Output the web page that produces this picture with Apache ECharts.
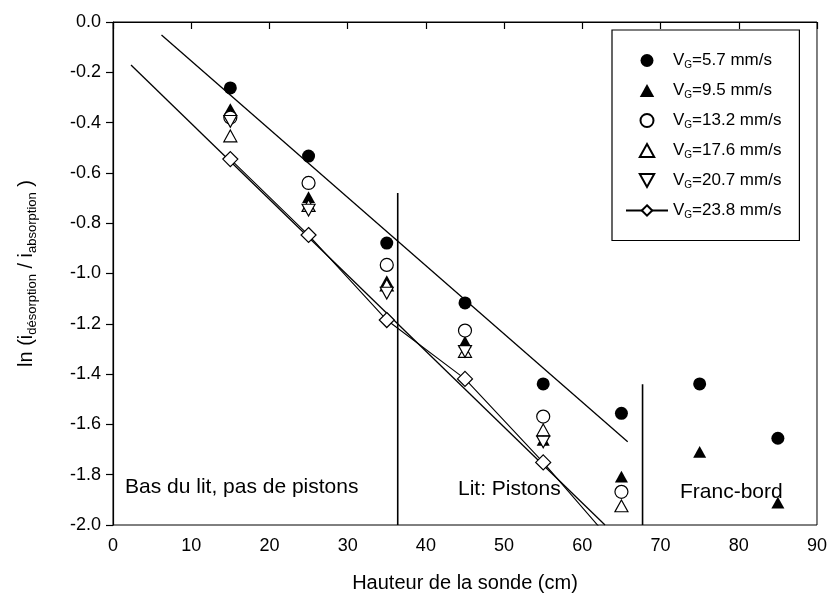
<!DOCTYPE html>
<html><head><meta charset="utf-8">
<script src="https://cdn.jsdelivr.net/npm/echarts@6/dist/echarts.min.js"></script>
<style>html,body{margin:0;padding:0;background:#fff}#c{width:830px;height:608px}</style>
</head><body><div id="c"></div>
<script>
// ---- data ----
const heights = [15, 25, 35, 45, 55, 65, 75, 85];
const vg57  = [-0.262, -0.533, -0.879, -1.117, -1.439, -1.556, -1.439, -1.655];
const vg95  = [-0.346, -0.696, -1.030, -1.271, -1.662, -1.808, -1.709, -1.911];
const vg132 = [-0.380, -0.640, -0.966, -1.227, -1.569, -1.868];
const vg176 = [-0.453, -0.730, -1.046, -1.310, -1.622, -1.924];
const vg207 = [-0.395, -0.748, -1.078, -1.310, -1.670];
const vg238 = [-0.545, -0.847, -1.185, -1.419, -1.751, -2.110];
const seriesLabels = ['5.7', '9.5', '13.2', '17.6', '20.7', '23.8'];
// fitted lines and zone separators
const fitUpperX = [6.2, 65.8],  fitUpperY = [-0.052, -1.669];
const fitLowerX = [2.3, 62.9],  fitLowerY = [-0.171, -2.0];
const zone1X = [36.4, 36.4],    zone1Y = [-0.68, -2.0];
const zone2X = [67.7, 67.7],    zone2Y = [-1.44, -2.0];
const zoneTexts = ['Bas du lit, pas de pistons', 'Lit: Pistons', 'Franc-bord'];

const FONT = 'Liberation Sans, Arial, Helvetica, sans-serif';
const pairs = (xs, ys) => ys.map((y, i) => [xs[i], y]);
const chart = echarts.init(document.getElementById('c'));

const UP = 'path://M5,0 L10,9 L0,9 Z';
const DOWN = 'path://M0,0 L10,0 L5,9 Z';
const filled = {color: '#000', opacity: 1};
const open = {color: '#fff', borderColor: '#000', borderWidth: 1.2, opacity: 1};
const scatter = (name, vals, symbol, style) => ({
  name, type: 'scatter', data: pairs(heights, vals), symbol, symbolSize: 13,
  symbolKeepAspect: true, itemStyle: style, z: 3
});
const plainLine = (xs, ys, w) => ({
  type: 'line', data: pairs(xs, ys), showSymbol: false, symbol: 'none', silent: true,
  lineStyle: {color: '#000', width: w}, z: 2
});

chart.setOption({
  animation: false,
  backgroundColor: '#fff',
  grid: {left: 113, right: 10, top: 22, bottom: 83, show: true, borderColor: '#000', borderWidth: 1},
  xAxis: {
    type: 'value', min: 0, max: 90, interval: 10,
    name: 'Hauteur de la sonde (cm)', nameLocation: 'middle', nameGap: 48,
    nameTextStyle: {fontFamily: FONT, fontSize: 20, color: '#000'},
    axisLine: {lineStyle: {color: '#000', width: 1.2}},
    axisTick: {length: 7, lineStyle: {color: '#000', width: 1.2}},
    axisLabel: {fontFamily: FONT, fontSize: 18, color: '#000', margin: 12},
    splitLine: {show: false}
  },
  yAxis: {
    type: 'value', min: -2, max: 0, interval: 0.2,
    name: 'ln (i{s|désorption} / i{s|absorption} )', nameLocation: 'middle', nameGap: 74, nameRotate: 90,
    nameTextStyle: {fontFamily: FONT, fontSize: 20, color: '#000', lineHeight: 26,
      rich: {s: {fontFamily: FONT, fontSize: 13, lineHeight: 14, verticalAlign: 'bottom', color: '#000'}}},
    axisLine: {lineStyle: {color: '#000', width: 1.2}},
    axisTick: {length: 7, lineStyle: {color: '#000', width: 1.2}},
    axisLabel: {fontFamily: FONT, fontSize: 18, color: '#000', margin: 12, formatter: v => v.toFixed(1)},
    splitLine: {show: false}
  },
  legend: {
    orient: 'vertical', left: 612, top: 30, padding: [22, 18, 20, 13],
    itemGap: 11.5, itemWidth: 42, itemHeight: 13,
    borderColor: '#000', borderWidth: 1.2,
    data: seriesLabels.map((n, i) => i < 5 ? {name: n, symbolKeepAspect: true} : {name: n}),
    formatter: n => '{v|V}{s|G}{v|=' + n + ' mm/s}',
    textStyle: {fontFamily: FONT, fontSize: 17, color: '#000',
      rich: {v: {fontFamily: FONT, fontSize: 17, lineHeight: 20, color: '#000'},
             s: {fontFamily: FONT, fontSize: 10, lineHeight: 10, verticalAlign: 'bottom', color: '#000'}}}
  },
  graphic: [
    {type: 'text', left: 125, top: 477, style: {text: zoneTexts[0], font: '21px ' + FONT, fill: '#000'}},
    {type: 'text', left: 458, top: 479, style: {text: zoneTexts[1], font: '21px ' + FONT, fill: '#000'}},
    {type: 'text', left: 680, top: 482, style: {text: zoneTexts[2], font: '21px ' + FONT, fill: '#000'}}
  ],
  series: [
    plainLine(fitUpperX, fitUpperY, 1.3),
    plainLine(fitLowerX, fitLowerY, 1.3),
    plainLine(zone1X, zone1Y, 1.6),
    plainLine(zone2X, zone2Y, 1.6),
    scatter(seriesLabels[0], vg57, 'circle', filled),
    scatter(seriesLabels[1], vg95, UP, filled),
    scatter(seriesLabels[2], vg132, 'circle', open),
    scatter(seriesLabels[3], vg176, UP, open),
    scatter(seriesLabels[4], vg207, DOWN, open),
    {name: seriesLabels[5], type: 'line', data: pairs(heights, vg238), clip: true,
     symbol: 'diamond', symbolSize: 15, showSymbol: true,
     itemStyle: open, lineStyle: {color: '#000', width: 1.1}, z: 4}
  ]
});
</script></body></html>
